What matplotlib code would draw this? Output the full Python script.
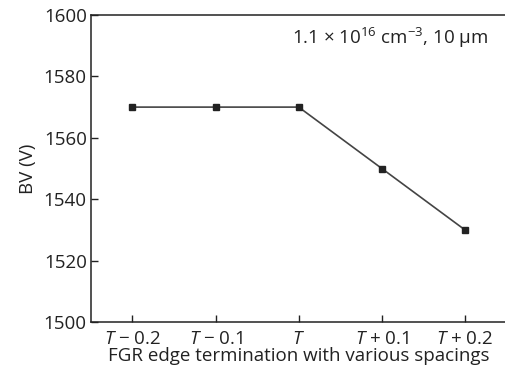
import matplotlib
matplotlib.use("Agg")
import matplotlib.pyplot as plt

plt.rcParams['font.family'] = ['Open Sans', 'DejaVu Sans']
plt.rcParams['mathtext.fontset'] = 'custom'
plt.rcParams['mathtext.rm'] = 'Open Sans'
plt.rcParams['mathtext.it'] = 'Open Sans:italic'
plt.rcParams['mathtext.bf'] = 'Open Sans:bold'

categories = ["$T$ − 0.2", "$T$ − 0.1", "$T$", "$T$ + 0.1", "$T$ + 0.2"]
bv_values = [1570, 1570, 1570, 1550, 1530]
y_ticks = [1500, 1520, 1540, 1560, 1580, 1600]

FS = 13.5
fig = plt.figure(figsize=(5.05, 3.76), dpi=100)
ax = fig.add_axes([0.180, 0.1436, 0.823, 0.8165])
x = list(range(len(categories)))
ax.plot(x, bv_values, color='#444444', lw=1.2, marker='s', markersize=4.5,
        markerfacecolor='#222222', markeredgecolor='#222222')
ax.set_xlim(-0.5, 4.5)
ax.set_ylim(1500, 1600)
ax.set_xticks(x)
ax.set_xticklabels(categories)
ax.set_yticks(y_ticks)
ax.tick_params(direction='in', length=5, width=1, labelsize=FS, colors='#222222', pad=3)
ax.tick_params(axis='x', pad=6)
for s in ax.spines.values():
    s.set_color('#222222')
    s.set_linewidth(1.1)
ax.spines['right'].set_visible(False)
ax.set_ylabel('BV (V)', fontsize=FS, color='#222222', labelpad=5)
ax.set_xlabel('FGR edge termination with various spacings', fontsize=FS, color='#222222', labelpad=-1)
ax.text(0.955, 0.925, '1.1 × 10$^{16}$ cm$^{−3}$, 10 μm', transform=ax.transAxes,
        ha='right', va='center', fontsize=FS, color='#222222')
fig.savefig('out.png', dpi=100)
